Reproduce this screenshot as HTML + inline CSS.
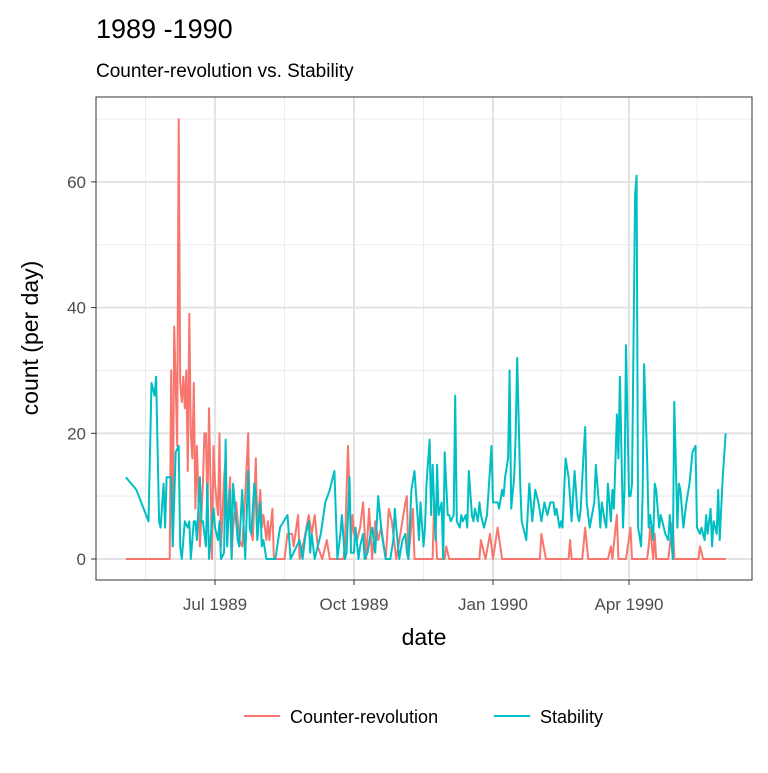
<!DOCTYPE html>
<html><head><meta charset="utf-8"><style>
body{margin:0;background:#fff;font-family:"Liberation Sans",Arial,sans-serif}
svg text{font-family:"Liberation Sans",Arial,sans-serif}
</style></head><body>
<svg id="chart" width="768" height="768" xmlns="http://www.w3.org/2000/svg">
<rect width="768" height="768" fill="#fff"/>
<text x="96" y="38" font-size="27" fill="#000">1989 -1990</text>
<text x="96" y="77" font-size="19" fill="#000">Counter-revolution vs. Stability</text>
<g id="grid"></g>
<g id="series"></g>
<rect x="96" y="97" width="656" height="483" fill="none" stroke="#333" stroke-width="1"/>
<g id="axes"></g>
<text x="424" y="645" font-size="23" text-anchor="middle" fill="#000">date</text>
<text transform="translate(38,338) rotate(-90)" font-size="23" text-anchor="middle" fill="#000">count (per day)</text>
<g>
<g>
<line x1="244" y1="716" x2="280" y2="716" stroke="#F8766D" stroke-width="2"/>
<text x="290" y="723" font-size="18" fill="#000">Counter-revolution</text>
</g>
<g>
<line x1="494" y1="716" x2="530" y2="716" stroke="#00BFC4" stroke-width="2"/>
<text x="540" y="723" font-size="18" fill="#000">Stability</text>
</g>
</g>
</svg>
<script>
// days since 1989-05-01
const xTickDays = [61, 153, 245, 335];
const xTickLabels = ["Jul 1989", "Oct 1989", "Jan 1990", "Apr 1990"];
const yTicks = [0, 20, 40, 60];
const crDays = [2,31,32,33,34,35,36,37,38,39,40,41,42,43,44,45,46,47,48,49,51,53,54,55,56,57,59,60,61,63,64,65,67,68,69,71,72,73,75,77,79,81,83,84,86,88,89,91,92,93,95,96,97,99,100,107,109,112,113,116,117,120,123,125,127,129,132,135,137,146,147,149,151,152,153,155,157,159,161,163,165,167,169,171,174,176,178,181,187,188,189,192,193,205,206,208,213,214,216,236,237,240,243,245,248,251,276,277,280,295,296,297,304,306,308,321,323,324,327,328,333,336,337,347,348,349,351,352,353,361,364,365,377,381,382,384,399];
const crVals = [0,0,30,2,37,28,18,70,28,25,29,24,30,14,39,20,16,28,8,18,2,12,20,20,8,24,0,18,12,7,20,2,13,16,5,13,0,5,9,3,2,10,20,5,3,16,5,11,5,7,3,6,3,8,0,0,4,4,2,7,0,3,7,4,7,2,0,3,0,0,2,18,3,7,4,3,5,9,0,8,0,6,3,5,0,8,6,0,9,10,0,8,0,0,9,0,0,2,0,0,3,0,4,0,5,0,0,4,0,0,3,0,0,5,0,0,2,0,7,0,0,5,0,0,2,5,0,4,0,0,6,0,0,0,2,0,0];
const stDays = [2,9,17,19,21,22,24,25,27,28,29,32,33,35,37,38,39,41,43,44,45,47,48,49,51,52,53,55,56,57,59,60,61,63,64,65,67,68,69,71,72,73,75,76,77,79,80,81,83,84,85,87,88,89,91,92,93,95,101,104,109,111,117,119,120,121,123,124,125,127,131,134,137,140,142,144,145,147,148,150,151,153,154,156,157,159,160,162,164,165,167,169,171,172,174,177,179,180,181,183,185,187,188,189,191,193,195,196,197,199,200,201,203,204,205,207,208,209,211,212,213,215,216,217,219,220,221,223,224,225,227,228,229,231,232,233,235,236,237,239,241,244,245,247,248,249,251,252,253,255,256,257,259,260,261,263,264,267,269,271,273,275,277,279,281,283,285,286,287,289,290,291,293,295,297,299,301,302,303,305,306,307,309,312,313,315,316,317,319,320,321,323,324,325,327,328,329,331,332,333,335,336,337,339,340,341,343,344,345,347,348,349,351,352,353,355,356,357,359,361,362,364,365,367,368,369,371,373,375,377,379,380,382,383,385,386,387,389,390,391,393,394,395,397,399];
const stVals = [13,11,6,28,26,29,6,5,12,5,13,13,2,17,18,2,0,6,5,6,0,6,6,3,13,6,6,2,12,0,6,8,5,3,6,0,1,19,2,11,0,12,6,3,2,11,5,0,14,5,4,12,10,3,9,2,3,0,0,5,7,0,3,0,2,4,6,1,4,0,4,9,11,14,0,4,7,0,1,13,1,1,5,0,2,4,0,1,4,5,1,10,5,3,0,0,3,8,5,0,3,4,1,0,11,14,7,3,9,2,5,12,19,7,15,3,15,7,9,0,17,7,7,6,7,26,6,5,7,6,7,5,14,7,6,8,6,9,7,5,7,18,9,9,9,8,11,10,13,16,30,8,13,20,32,12,6,3,12,6,11,9,6,9,7,9,9,7,8,5,6,5,16,13,6,14,7,6,8,17,21,9,5,9,15,9,5,9,6,5,12,6,11,8,23,16,29,5,11,34,10,10,12,58,61,5,2,10,31,16,5,7,3,12,11,5,7,6,4,3,7,0,25,5,12,11,5,9,12,17,18,5,4,5,3,7,4,8,2,6,4,11,3,13,20];

const NS = "http://www.w3.org/2000/svg";
const xScale = d => 215 + (d - 61) * 1.511;
const yScale = v => 559 - v * 6.285;
const grid = document.getElementById('grid');
const axes = document.getElementById('axes');
const series = document.getElementById('series');
function mk(tag, attrs, parent){const e=document.createElementNS(NS,tag);for(const k in attrs)e.setAttribute(k,attrs[k]);parent.appendChild(e);return e;}
for (let i=0;i<yTicks.length;i++){
  const mv = yTicks[i]+10;
  const l = mk('line',{x1:96,x2:752,y1:yScale(mv),y2:yScale(mv),stroke:'#ebebeb','stroke-width':1},grid);
  
  
}
const minorX=[xTickDays[0]-46].concat(xTickDays.map((d,i)=>i<xTickDays.length-1?(d+xTickDays[i+1])/2:d+45));
for (const d of minorX){
  const l = mk('line',{x1:xScale(d),x2:xScale(d),y1:97,y2:580,stroke:'#ebebeb','stroke-width':1},grid);
  
  
}
for (const v of yTicks){
  const l = mk('line',{x1:96,x2:752,y1:yScale(v),y2:yScale(v),stroke:'#e3e3e3','stroke-width':2},grid);
  
  
  const t = mk('line',{x1:91,x2:96,y1:yScale(v),y2:yScale(v),stroke:'#333','stroke-width':1},axes);
  
  
  const tx = mk('text',{x:86,y:yScale(v)+6,'font-size':17,'text-anchor':'end',fill:'#4d4d4d'},axes);
  tx.textContent = v;
  
  
}
xTickDays.forEach((d,i)=>{
  const l = mk('line',{x1:xScale(d),x2:xScale(d),y1:97,y2:580,stroke:'#e3e3e3','stroke-width':2},grid);
  
  
  const t = mk('line',{x1:xScale(d),x2:xScale(d),y1:580,y2:585,stroke:'#333','stroke-width':1},axes);
  
  
  const tx = mk('text',{x:xScale(d),y:610,'font-size':17,'text-anchor':'middle',fill:'#4d4d4d'},axes);
  tx.textContent = xTickLabels[i];
  
  
});
function drawLine(days, vals, color, name){
  const pts = days.map((d,i)=>xScale(d).toFixed(1)+','+yScale(vals[i]).toFixed(1)).join(' ');
  const p = mk('polyline',{points:pts,fill:'none',stroke:color,'stroke-width':2,'stroke-linejoin':'round'},series);
  
  
}
drawLine(crDays, crVals, '#F8766D', 'counter-revolution-line');
drawLine(stDays, stVals, '#00BFC4', 'stability-line');
</script>
</body></html>
